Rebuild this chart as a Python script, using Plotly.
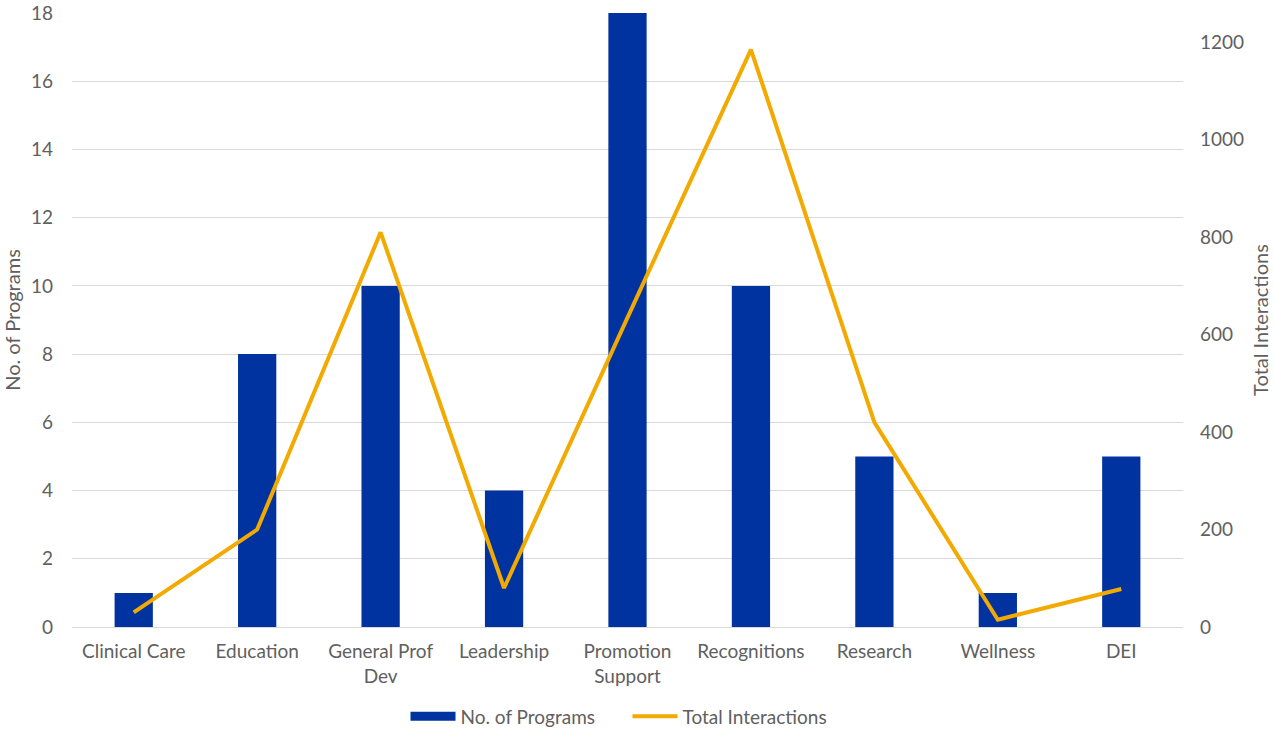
import plotly.graph_objects as go

categories = ["Clinical Care", "Education", "General Prof<br>Dev", "Leadership",
              "Promotion<br>Support", "Recognitions", "Research", "Wellness", "DEI"]
programs = [1, 8, 10, 4, 18, 10, 5, 1, 5]
interactions = [30, 200, 810, 80, 635, 1185, 420, 15, 78]

FONT = "Lato"
GRAY = "#606060"
BLUE = "#0033A0"
GOLD = "#F2A900"

fig = go.Figure()
fig.add_trace(go.Bar(x=categories, y=programs, name="No. of Programs",
                     marker=dict(color=BLUE, line=dict(width=0)),
                     yaxis="y", showlegend=False))
# legend entry with a wide rectangle swatch for the bars
fig.add_trace(go.Scatter(x=[None], y=[None], name="No. of Programs", mode="lines",
                         line=dict(color=BLUE, width=9), yaxis="y", hoverinfo="skip"))
fig.add_trace(go.Scatter(x=categories, y=interactions, name="Total Interactions",
                         mode="lines", line=dict(color=GOLD, width=4),
                         yaxis="y2"))

fig.update_layout(
    width=1274, height=731,
    margin=dict(l=72, r=91, t=13, b=104, autoexpand=False),
    paper_bgcolor="white", plot_bgcolor="white",
    font=dict(family=FONT, size=19, color=GRAY),
    bargap=0.69,
    showlegend=True,
    legend=dict(orientation="h", x=0.5, xanchor="center",
                yref="container", y=0.02, yanchor="middle",
                font=dict(size=19, color=GRAY), itemwidth=45, tracegroupgap=0,
                entrywidth=162, entrywidthmode="pixels"),
    xaxis=dict(showgrid=False, showline=True, linecolor="#d9d9d9", linewidth=1,
               tickfont=dict(size=19, color=GRAY), ticks="", automargin=False,
               ticklabelstandoff=7),
    yaxis=dict(range=[0, 18], dtick=2, showgrid=True, gridcolor="#d9d9d9",
               zeroline=False, showline=False, ticks="", automargin=False,
               ticklabelstandoff=18,
               title=dict(text="No. of Programs", font=dict(size=20, color=GRAY), standoff=8),
               tickfont=dict(size=19, color=GRAY)),
    yaxis2=dict(range=[0, 1260], dtick=200, overlaying="y", side="right",
                showgrid=False, zeroline=False, showline=False, ticks="", automargin=False,
                ticklabelstandoff=16,
                title=dict(text="Total Interactions", font=dict(size=20, color=GRAY), standoff=10),
                tickfont=dict(size=19, color=GRAY)),
)

fig.write_html("out.html")
